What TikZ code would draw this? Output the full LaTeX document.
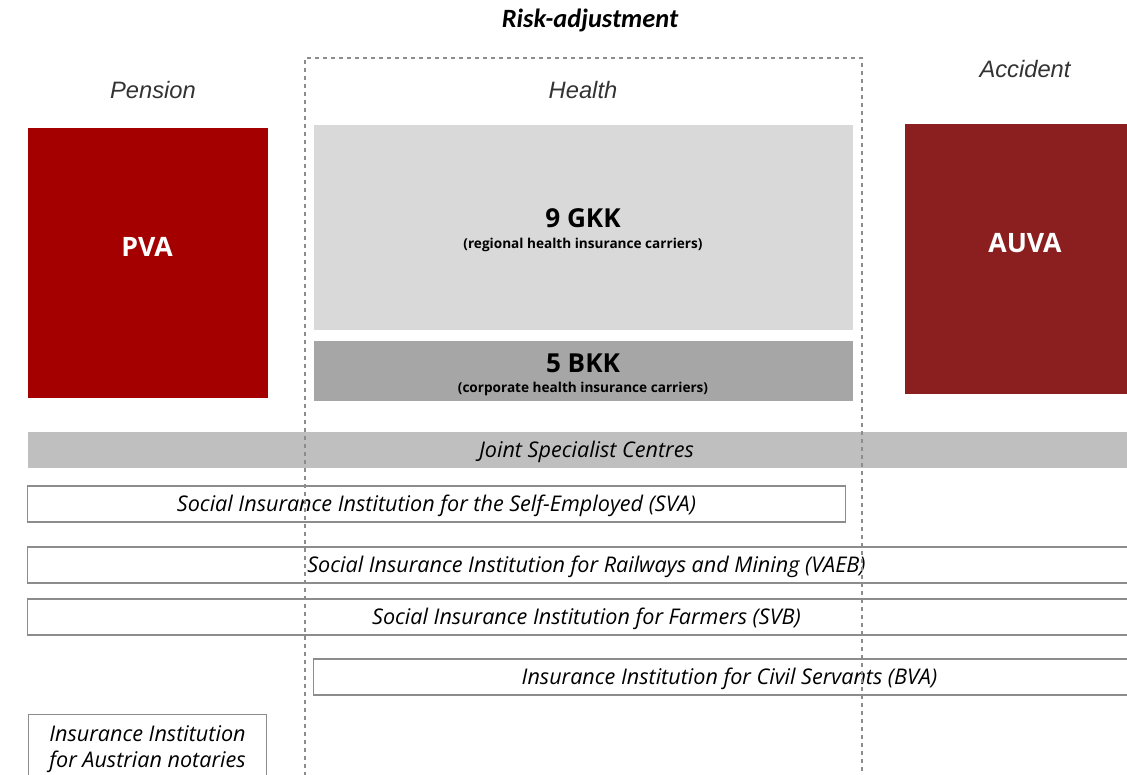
\documentclass[tikz,border=0pt]{standalone}
\usepackage{fontspec}
\setmainfont{Open Sans}
\newfontfamily\headfont{Liberation Sans}
\newfontfamily\titlefont{Carlito}
\usetikzlibrary{positioning}

\definecolor{pvared}{HTML}{A50000}
\definecolor{auvared}{HTML}{8B1F20}
\definecolor{gkkgray}{HTML}{D9D9D9}
\definecolor{bkkgray}{HTML}{A6A6A6}
\definecolor{jointgray}{HTML}{BFBFBF}
\definecolor{linegray}{HTML}{8C8C8C}

\begin{document}
\begin{tikzpicture}[x=0.75pt,y=-0.75pt,
    branch/.style={font=\headfont\itshape\fontsize{17.8}{21}\selectfont, text=black!80},
    carrier/.style={rectangle, inner sep=0pt, align=center, text=white,
      font=\bfseries\fontsize{20}{24}\selectfont},
    healthbox/.style={rectangle, inner sep=0pt, align=center, text=black},
    institution/.style={rectangle, draw=linegray, line width=0.9pt, inner sep=0pt,
      minimum height=27pt, text height=14.5pt, text depth=3pt,
      align=center, font=\itshape\fontsize{16.2}{19.5}\selectfont}]
\useasboundingbox (0,0) rectangle (1127,774);
\clip (0,0) rectangle (1127,774);

% headings
\node[font=\titlefont\bfseries\itshape\fontsize{19.8}{23}\selectfont] (risk) at (590,20) {Risk-adjustment};
\node[branch] (pension) at (153,90) {Pension};
\node[branch] (health) at (583,90) {Health};
\node[branch] (accident) at (1025,69) {Accident};

% carriers
\node[carrier, fill=pvared, minimum width=180pt, minimum height=203pt] (pva) at (147.5,263) {};
\node[text=white, font=\bfseries\fontsize{20}{24}\selectfont] (pvatxt) at (147,247) {PVA};
\node[healthbox, fill=gkkgray, minimum width=404pt, minimum height=154pt] (gkk) at (583.5,227.5) {};
\node[font=\bfseries\fontsize{19.6}{23}\selectfont] (gkktxt) at (583,218) {9 GKK};
\node[font=\bfseries\fontsize{10.2}{12}\selectfont] (gkksub) at (583,245) {(regional health insurance carriers)};
\node[healthbox, fill=bkkgray, minimum width=404pt, minimum height=45pt] (bkk) at (583.5,370.5) {};
\node[font=\bfseries\fontsize{19.6}{23}\selectfont] (bkktxt) at (583,363) {5 BKK};
\node[font=\bfseries\fontsize{10.2}{12}\selectfont] (bkksub) at (583,389) {(corporate health insurance carriers)};
\node[carrier, fill=auvared, minimum width=180pt, minimum height=203pt] (auva) at (1025,259) {};
\node[text=white, font=\bfseries\fontsize{20}{24}\selectfont] (auvatxt) at (1025,243) {AUVA};

% institutions
\node[institution, draw=none, fill=jointgray, minimum width=838pt] (joint) at (586.5,450) {Joint Specialist Centres};
\node[institution, minimum width=613pt] (sva) at (436.5,504) {Social Insurance Institution for the Self-Employed (SVA)};
\node[institution, minimum width=838pt] (vaeb) at (586.5,565) {Social Insurance Institution for Railways and Mining (VAEB)};
\node[institution, minimum width=838pt] (svb) at (586.5,617) {Social Insurance Institution for Farmers (SVB)};
\node[institution, minimum width=624pt] (bva) at (729.5,677) {Insurance Institution for Civil Servants (BVA)};
\node[institution, minimum width=179pt, minimum height=52pt, text height=, text depth=] (notar) at (147.5,749) {Insurance Institution\\for Austrian notaries};

% risk-adjustment frame
\draw[linegray, dashed, line width=0.9pt] (305,800) -- (305,58) -- (862,58) -- (862,800);
\end{tikzpicture}
\end{document}
